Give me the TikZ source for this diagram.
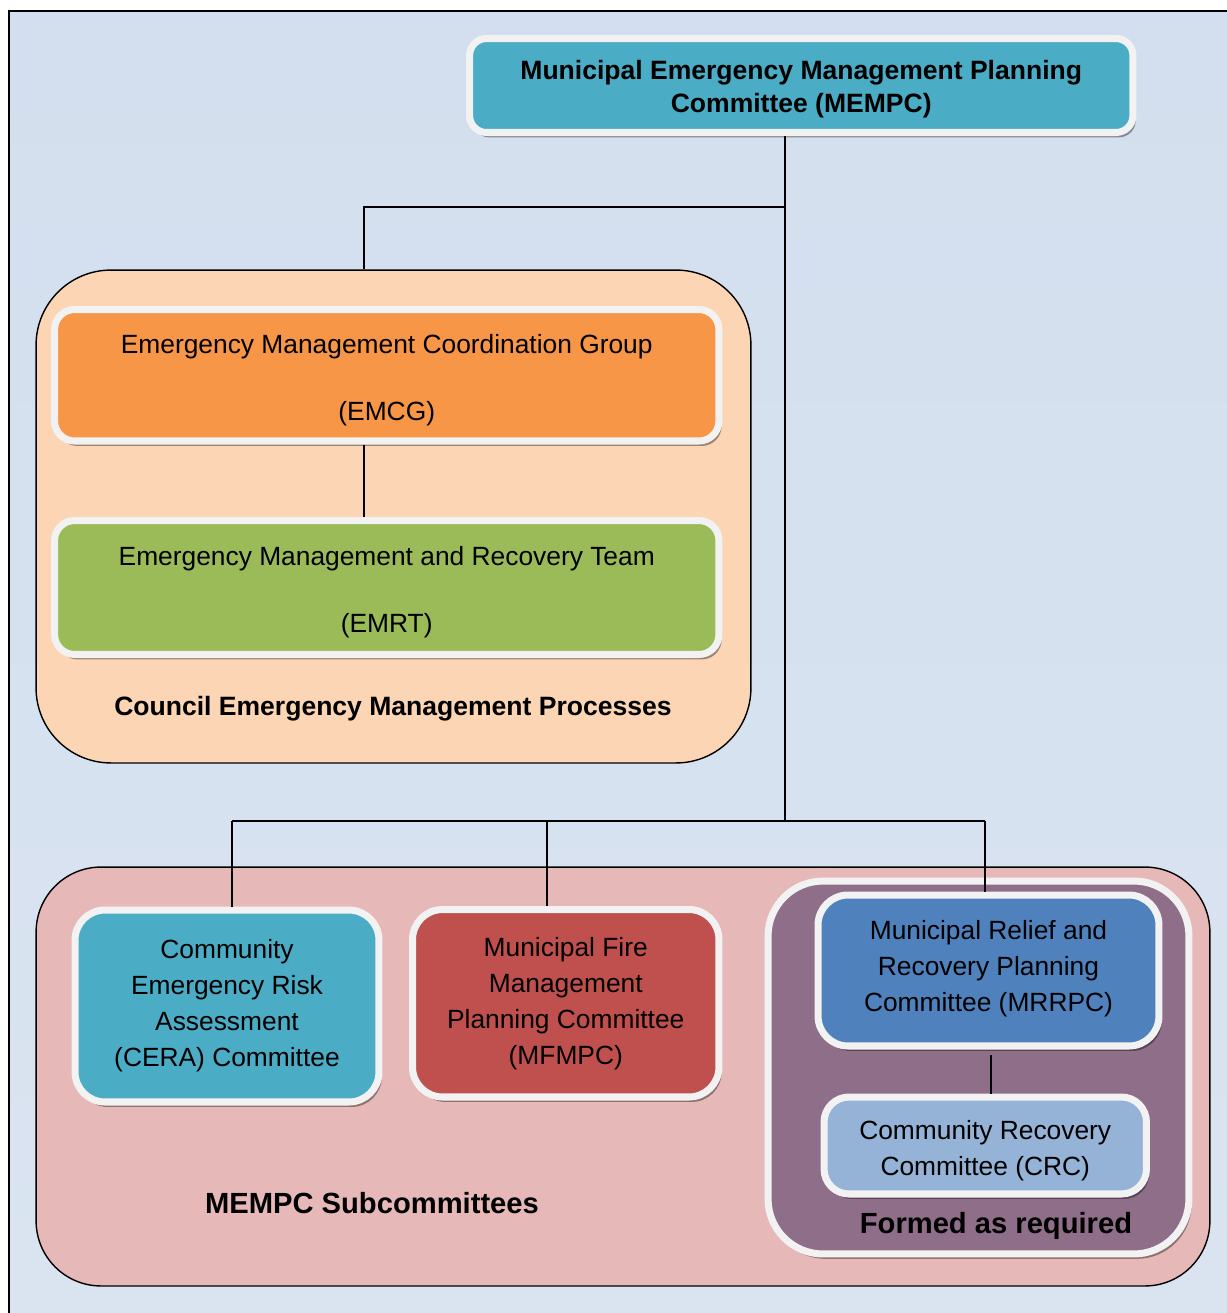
\documentclass[tikz,border=0pt]{standalone}
\usepackage{fontspec}
\setmainfont{Liberation Sans}
\usetikzlibrary{shadows}
\definecolor{bgtop}{HTML}{D3DFEE}
\definecolor{bgmid}{HTML}{CAD6E8}
\definecolor{bgbot}{HTML}{DAE4F1}
\definecolor{boxwhite}{HTML}{F2F2F2}
\definecolor{cteal}{HTML}{4BACC6}
\definecolor{corange}{HTML}{F79646}
\definecolor{cgreen}{HTML}{9BBB59}
\definecolor{cred}{HTML}{C0504D}
\definecolor{cblue}{HTML}{4F81BD}
\definecolor{clblue}{HTML}{95B3D7}
\definecolor{cpeach}{HTML}{FCD5B4}
\definecolor{cpink}{HTML}{E6B9B8}
\definecolor{cpurple}{HTML}{8F6E89}
\begin{document}
\begin{tikzpicture}[x=0.02cm,y=-0.02cm,
  box/.style={draw=boxwhite, line width=4pt, rounded corners=#1, inner sep=0pt,
    drop shadow={shadow xshift=1.6pt, shadow yshift=-2.8pt, opacity=0.38, fill=black}},
  box/.default=0.34cm,
  boxtext/.style={align=center, inner sep=0pt, font=\fontsize{15}{20.4}\selectfont},
  titletext/.style={align=center, inner sep=0pt, font=\bfseries\fontsize{15.1}{18.7}\selectfont},
  container/.style={draw=black, line width=0.8pt, rounded corners=#1, inner sep=0pt},
  conn/.style={draw=black, line width=0.8pt},
  lbl/.style={font=\bfseries\fontsize{15.1}{18.7}\selectfont, inner sep=0pt, align=center},
  biglbl/.style={font=\bfseries\fontsize{16.6}{20}\selectfont, inner sep=0pt}
]
\useasboundingbox (0,0) rectangle (1227,1313);
% background frame
\shade[top color=bgtop, middle color=bgmid, bottom color=bgbot] (9,11) rectangle (1227,1313);
\draw[line width=1.1pt] (9,1313) -- (9,11) -- (1227,11);

% containers
\node[container=1.5cm, fill=cpeach, minimum width=14.3cm, minimum height=9.86cm] (council) at (393.5,516.5) {};
\node[container=1.3cm, fill=cpink, minimum width=23.48cm, minimum height=8.38cm] (subs) at (623,1076.5) {};
\node[box=1.1cm, fill=cpurple, minimum width=8.42cm, minimum height=7.46cm] (formed) at (978.5,1067.5) {};

% boxes
\node[box, fill=cteal, minimum width=13.27cm, minimum height=1.88cm,
      label={[titletext, yshift=-2.2pt]center:{Municipal Emergency Management Planning\\Committee (MEMPC)}}]
      (mempc) at (801.25,85.5) {};
\node[box=0.4cm, fill=corange, minimum width=13.29cm, minimum height=2.63cm,
      label={[boxtext, yshift=-2.8pt]center:{Emergency Management Coordination Group\\[17.6pt](EMCG)}}]
      (emcg) at (386.75,375.25) {};
\node[box=0.4cm, fill=cgreen, minimum width=13.29cm, minimum height=2.68cm,
      label={[boxtext, yshift=-2.8pt]center:{Emergency Management and Recovery Team\\[17.6pt](EMRT)}}]
      (emrt) at (386.75,587.5) {};
\node[box=0.6cm, fill=cteal, minimum width=6.08cm, minimum height=3.84cm,
      label={[boxtext, yshift=0.3pt]center:{Community\\Emergency Risk\\Assessment\\(CERA) Committee}}]
      (cera) at (227,1006) {};
\node[box=0.6cm, fill=cred, minimum width=6.13cm, minimum height=3.75cm,
      label={[boxtext, yshift=-0.3pt]center:{Municipal Fire\\Management\\Planning Committee\\(MFMPC)}}]
      (mfmpc) at (565.75,1003.25) {};
\node[box=0.6cm, fill=cblue, minimum width=6.82cm, minimum height=3.02cm,
      label={[boxtext, yshift=0.9pt]center:{Municipal Relief and\\Recovery Planning\\Committee (MRRPC)}}]
      (mrrpc) at (988.5,970.5) {};
\node[box=0.5cm, fill=clblue, minimum width=6.45cm, minimum height=1.94cm,
      label={[boxtext, yshift=-2.8pt]center:{Community Recovery\\Committee (CRC)}}]
      (crc) at (985.25,1145.5) {};

% labels
\node[lbl] (councillbl) at (393,709) {Council Emergency Management Processes};
\node[biglbl] (subslbl) at (372,1203) {MEMPC Subcommittees};
\node[biglbl] (formedlbl) at (996,1226) {Formed as required};

% connectors
\coordinate (jt) at (785,207);
\coordinate (jb) at (785,821);
\coordinate (jl) at (364,207);
\coordinate (b1) at (232,821);
\coordinate (b2) at (547,821);
\coordinate (b3) at (985,821);
\coordinate (xm) at (991,1070);
\draw[conn] (mempc.south -| jt) -- (jb);
\draw[conn] (jt) -- (jl) -- (council.north -| jl);
\draw[conn] (emcg.south -| jl) -- (emrt.north -| jl);
\draw[conn] (b1) -- (b3);
\draw[conn] (b1) -- (cera.north -| b1);
\draw[conn] (b2) -- (mfmpc.north -| b2);
\draw[conn] (b3) -- (mrrpc.north -| b3);
\draw[conn] ([yshift=-3pt]mrrpc.south -| xm) -- (crc.north -| xm);
\end{tikzpicture}
\end{document}
